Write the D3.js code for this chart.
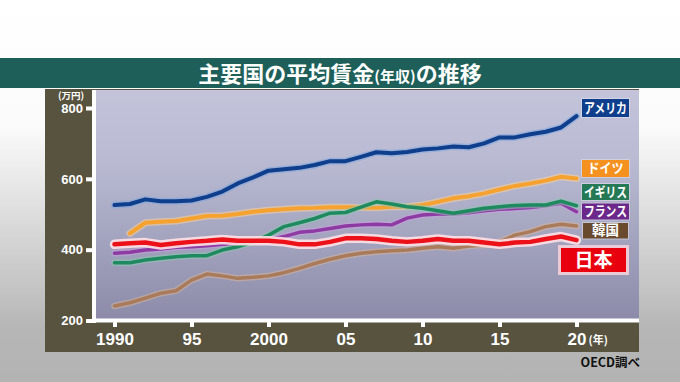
<!DOCTYPE html>
<html><head><meta charset="utf-8">
<script src="https://cdn.jsdelivr.net/npm/d3@7"></script>
<style>
html,body{margin:0;padding:0;background:#fff;}
svg{display:block;}
</style></head>
<body>
<svg id="c" width="680" height="382"></svg>
<script>
// ---- data ----
const years = d3.range(1990, 2021);
const usa     = [526,529,542,537,537,539,549,564,587,604,623,627,631,639,650,650,662,675,672,676,683,686,691,689,700,717,717,726,733,745,777];
const germany = [null,446,476,479,481,488,495,496,501,507,511,514,517,518,520,520,519,518,521,521,526,535,545,551,559,570,580,587,595,606,601];
const uk      = [363,363,371,376,380,383,383,399,408,422,441,465,476,488,503,505,520,535,529,521,517,510,503,510,517,521,525,526,526,537,524];
const france  = [390,393,399,402,407,408,411,415,418,422,427,437,449,453,460,467,470,472,470,489,498,501,501,504,510,514,516,519,524,531,507];
const korea   = [241,250,263,277,284,314,331,326,319,322,326,335,347,361,373,383,390,394,397,399,404,408,404,410,413,422,441,451,465,472,467];
const japan   = [415,418,420,413,418,422,425,429,425,425,425,422,415,415,422,432,432,430,425,422,425,430,425,425,420,415,420,422,430,437,427];
const yTicks = [200,400,600,800];
const xTicks = [1990,1995,2000,2005,2010,2015,2020];
const xTickLabels = ["1990","95","2000","05","10","15","20"];
const countries = ["アメリカ","ドイツ","イギリス","フランス","韓国","日本"];

const svg = d3.select("#c");
const defs = svg.append("defs");
const bg = defs.append("linearGradient").attr("id","bg").attr("x1",0).attr("y1",0).attr("x2",0).attr("y2",1);
bg.append("stop").attr("offset","0%").attr("stop-color","#ffffff");
bg.append("stop").attr("offset","33%").attr("stop-color","#fbfbfb");
bg.append("stop").attr("offset","86%").attr("stop-color","#b6b6b6");
bg.append("stop").attr("offset","100%").attr("stop-color","#b3b3b3");
const pg = defs.append("linearGradient").attr("id","pg").attr("x1",0).attr("y1",0).attr("x2",0).attr("y2",1);
pg.append("stop").attr("offset","0%").attr("stop-color","#c3c4da");
pg.append("stop").attr("offset","30%").attr("stop-color","#babbd3");
pg.append("stop").attr("offset","100%").attr("stop-color","#8b8ba9");

svg.append("rect").attr("width",680).attr("height",382).attr("fill","url(#bg)");

// title bar
svg.append("rect").attr("x",0).attr("y",58).attr("width",680).attr("height",30).attr("fill","#1e5f5a");
const title = svg.append("text").attr("x",340).attr("y",81.5).attr("text-anchor","middle")
  .attr("fill","#fff").attr("font-family","'Noto Sans CJK JP'").attr("font-weight","bold").attr("font-size",22);
title.append("tspan").text("主要国の平均賃金");
title.append("tspan").attr("font-size",15).text("(年収)");
title.append("tspan").text("の推移");

// dark panel
svg.append("rect").attr("x",45).attr("y",89).attr("width",594).attr("height",263).attr("fill","#58533f");
// plot area
const L = 96, R = 639, T = 90, B = 321;
svg.append("rect").attr("x",L).attr("y",T).attr("width",R-L).attr("height",B-T).attr("fill","url(#pg)");

const x = d3.scaleLinear().domain([1990,2020]).range([114.5,576.5]);
const y = d3.scaleLinear().domain([200,800]).range([320.5,108]);

// axes lines (white)
svg.append("rect").attr("x",92).attr("y",T).attr("width",4).attr("height",B-T+2).attr("fill","#fff");
svg.append("rect").attr("x",92).attr("y",318.5).attr("width",R-92).attr("height",4).attr("fill","#fff");

// y axis
const ya = svg.append("g").attr("transform","translate(92,0)")
  .call(d3.axisLeft(y).tickValues(yTicks).tickSize(6).tickPadding(3).tickFormat(d3.format("d")));
ya.select(".domain").remove();
ya.selectAll(".tick line").attr("stroke","#fff").attr("stroke-width",4);
ya.selectAll(".tick text").attr("fill","#fff").attr("font-family","'Liberation Sans',Arial,sans-serif")
  .attr("font-weight","bold").attr("font-size",13);
svg.append("text").attr("x",71).attr("y",99).attr("text-anchor","middle").attr("fill","#fff")
  .attr("font-family","'Noto Sans CJK JP'").attr("font-size",9.5).attr("font-weight","bold").text("(万円)");

// x axis
const xa = svg.append("g").attr("transform","translate(0,322)")
  .call(d3.axisBottom(x).tickValues(xTicks).tickSize(5).tickPadding(6).tickFormat((d,i)=>xTickLabels[i]));
xa.select(".domain").remove();
xa.selectAll(".tick line").attr("stroke","#fff").attr("stroke-width",4);
xa.selectAll(".tick text").attr("fill","#fff").attr("font-family","'Liberation Sans',Arial,sans-serif")
  .attr("font-weight","bold").attr("font-size",17);
svg.append("text").attr("x",x(2020)+12).attr("y",344).attr("fill","#fff")
  .attr("font-family","'Noto Sans CJK JP'").attr("font-weight","bold").attr("font-size",11).text("(年)");

svg.append("text").attr("x",640).attr("y",367).attr("text-anchor","end").attr("fill","#111")
  .attr("font-family","'Noto Sans CJK JP'").attr("font-weight","bold").attr("font-size",12.5).text("OECD調べ");

// lines
const line = d3.line().defined(d=>d[1]!=null).x(d=>x(d[0])).y(d=>y(d[1]));
const series = [
  {v:korea,   c:"#a97b5a", h:"#d6b39a", w:3.5},
  {v:france,  c:"#8d3aa3", h:"#c9a0dc", w:3.5},
  {v:germany, c:"#f5a231", h:"#fbd49a", w:4},
  {v:uk,      c:"#1f8a60", h:"#8cc9ae", w:3.5},
  {v:usa,     c:"#0e3e8c", h:"#7fa6dc", w:4},
  {v:japan,   c:"#ec1119", h:"#ffe0e4", w:4.5}
];
series.forEach(s=>{
  const pts = years.map((yr,i)=>[yr,s.v[i]]);
  svg.append("path").attr("d",line(pts)).attr("fill","none").attr("stroke",s.h)
    .attr("stroke-width",s.w+ (s.v===japan?5:3)).attr("stroke-opacity",s.v===japan?0.9:0.55)
    .attr("stroke-linejoin","round").attr("stroke-linecap","round");
  svg.append("path").attr("d",line(pts)).attr("fill","none").attr("stroke",s.c)
    .attr("stroke-width",s.w).attr("stroke-linejoin","round").attr("stroke-linecap","round");
});

// labels
const labels = [
  {t:countries[0], x:582, y:99,  w:47, h:18, bg:"#0f3e8c", tl:43},
  {t:countries[1], x:582, y:160, w:47, h:17, bg:"#f5921f", tl:36},
  {t:countries[2], x:582, y:184, w:47, h:16, bg:"#257a55", tl:43},
  {t:countries[3], x:582, y:203.5, w:47, h:16, bg:"#6b2789", tl:43},
  {t:countries[4], x:583, y:223, w:45, h:15.5, bg:"#6a4a2c", tl:27},
];
labels.forEach(l=>{
  svg.append("rect").attr("x",l.x-1).attr("y",l.y-1).attr("width",l.w+2).attr("height",l.h+2).attr("fill","#e6e6f0").attr("opacity",0.5);
  svg.append("rect").attr("x",l.x).attr("y",l.y).attr("width",l.w).attr("height",l.h).attr("fill",l.bg);
  svg.append("text").attr("x",l.x+l.w/2).attr("y",l.y+l.h/2+4.7).attr("text-anchor","middle").attr("fill","#fff")
    .attr("font-family","'Noto Sans CJK JP'").attr("font-weight","bold").attr("font-size",13.5)
    .attr("textLength",l.tl).attr("lengthAdjust","spacingAndGlyphs").text(l.t);
});
// Japan label
svg.append("rect").attr("x",559.5).attr("y",246.5).attr("width",68).attr("height",27).attr("fill","none")
  .attr("stroke","#ffd6dc").attr("stroke-width",3).attr("opacity",0.8);
svg.append("rect").attr("x",561).attr("y",248).attr("width",65).attr("height",24).attr("fill","#e8000f");
svg.append("text").attr("x",593.5).attr("y",267).attr("text-anchor","middle").attr("fill","#fff")
  .attr("font-family","'Noto Sans CJK JP'").attr("font-weight","bold").attr("font-size",19).text(countries[5]);
</script>
</body></html>
